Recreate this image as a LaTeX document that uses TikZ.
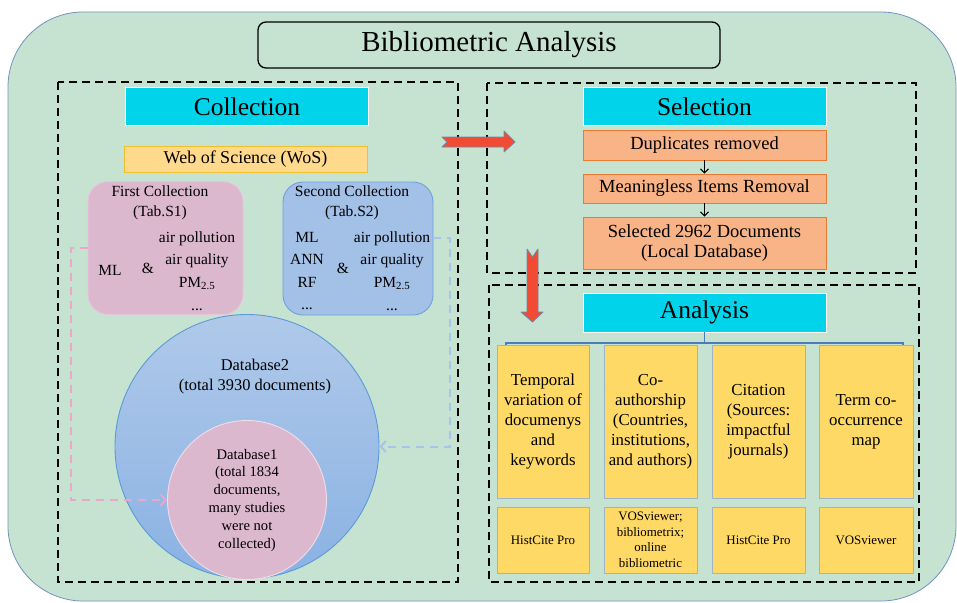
\documentclass[tikz,border=0pt]{standalone}
\usepackage{fontspec}
\setmainfont{Liberation Serif}
\usetikzlibrary{arrows.meta}

\definecolor{bggreen}{HTML}{C6E2D1}
\definecolor{bgedge}{HTML}{7393BF}
\definecolor{headcyan}{HTML}{00D3EA}
\definecolor{selorange}{HTML}{F8B386}
\definecolor{seledge}{HTML}{EA7B32}
\definecolor{wosfill}{HTML}{FFDA8C}
\definecolor{wosedge}{HTML}{F2C02E}
\definecolor{anafill}{HTML}{FFD966}
\definecolor{anaedge}{HTML}{9DB4CC}
\definecolor{pinkfill}{HTML}{DCB8CF}
\definecolor{pinkedge}{HTML}{E8C6DA}
\definecolor{bluefill}{HTML}{A3C0E7}
\definecolor{blueedge}{HTML}{6FA0DC}
\definecolor{dbtop}{HTML}{B0C9EA}
\definecolor{dbbottom}{HTML}{8AB2E3}
\definecolor{dbedge}{HTML}{5B9BD5}
\definecolor{pinkdash}{HTML}{EAA7CB}
\definecolor{bluedash}{HTML}{A7C4EC}
\definecolor{arrowred}{HTML}{F24B33}
\definecolor{arrowedge}{HTML}{6A89AE}
\definecolor{bracketblue}{HTML}{4A7EBB}

\newcommand{\fsz}[2]{\fontsize{#1}{#2}\selectfont}

\begin{document}
\begin{tikzpicture}[x=1pt, y=-1pt,
  titlebox/.style={draw, rounded corners=8pt, line width=1.3pt, minimum width=462pt, minimum height=46pt, inner sep=0pt, font=\fsz{29}{34}},
  frame/.style={draw=black, line width=2.5pt, dash pattern=on 8pt off 5pt},
  hdr/.style={fill=headcyan, draw=white, line width=.8pt, minimum width=243pt, minimum height=38pt, inner sep=0pt, font=\fsz{25.5}{30}},
  selbox/.style={fill=selorange, draw=seledge, line width=.8pt, minimum width=243pt, inner sep=0pt, align=center, font=\fsz{18.5}{20}},
  wosbox/.style={fill=wosfill, draw=wosedge, line width=.9pt, minimum width=243pt, minimum height=26pt, inner sep=0pt, font=\fsz{18}{20}},
  collbox/.style={line width=.9pt, rounded corners=20pt, minimum height=133pt, inner sep=0pt},
  coltext/.style={align=center, inner sep=0pt, font=\fsz{15.5}{22.6}},
  anabox/.style={fill=anafill, draw=anaedge, line width=.9pt, inner sep=0pt, align=center},
  toprow/.style={anabox, minimum height=153pt, font=\fsz{16.8}{20}},
  botrow/.style={anabox, minimum height=66pt, font=\fsz{12.9}{15.5}},
  dashlink/.style={line width=2pt, dash pattern=on 8pt off 6pt, -{Straight Barb[length=5pt,width=11pt]}},
  smallarrow/.style={line width=1.1pt, -{Straight Barb[length=4pt,width=8pt]}},
  blockarrow/.style={fill=arrowred, draw=arrowedge, line width=.8pt, line join=round},
  brk/.style={draw=bracketblue, line width=1.4pt}
]
\useasboundingbox (0,0) rectangle (957,602);
%\draw[help lines, step=50] (0,0) grid (957,602);
\draw [fill=bggreen, draw=bgedge, line width=.8pt, rounded corners=75pt] (8,12) rectangle (956,601);

\node [titlebox] (title) at (489,45) {Bibliometric Analysis};

\draw [frame] (58,82) rectangle (458,582);
\draw [frame] (487,83) rectangle (916,273);
\draw [frame] (489,285) rectangle (919,582);

% collection
\node [hdr] (colh) at (247,106.5) {Collection};
\node [wosbox] (wos) at (245.5,159) {Web of Science (WoS)};
\node [collbox, fill=pinkfill, draw=pinkedge, minimum width=155pt] (first) at (165.5,248) {};
\node [collbox, fill=bluefill, draw=blueedge, minimum width=150pt] (second) at (358,248.5) {};
\node [coltext, font=\fsz{15.5}{20}] (firstt) at (160,203) {First Collection\\(Tab.S1)};
\node [coltext] (firstml) at (110,270) {ML};
\node [coltext] (firstand) at (148,268) {\&};
\node [coltext] (firstkw) at (197,271) {air pollution\\air quality\\PM\textsubscript{2.5}\\...};
\node [coltext, font=\fsz{15.5}{20}] (secondt) at (352,203) {Second Collection\\(Tab.S2)};
\node [coltext] (secondml) at (307,271) {ML\\ANN\\RF\\...};
\node [coltext] (secondand) at (343,268) {\&};
\node [coltext] (secondkw) at (392,271) {air pollution\\air quality\\PM\textsubscript{2.5}\\...};

\node [circle, shade, top color=dbtop, bottom color=dbbottom, draw=dbedge, line width=.9pt, minimum size=264pt, inner sep=0pt] (db2) at (247,446.5) {};
\node [align=center, inner sep=0pt, font=\fsz{16.4}{20}] (db2t) at (255,377) {Database2\\(total 3930 documents)};
\node [circle, fill=pinkfill, draw=pinkedge!60!white, line width=.9pt, minimum size=159pt, inner sep=0pt, align=center, font=\fsz{14.6}{17.8}] (db1) at (247,500) {Database1\\(total 1834\\documents,\\many studies\\were not\\collected)};

\draw [dashlink, pinkdash] (first.west) -- ++(-17,0) |- (db1.west);
\draw [dashlink, bluedash] ([yshift=11pt]second.east) -- ++(17,0) |- (db2.east);

% selection
\node [hdr] (selh) at (704.5,106.5) {Selection};
\node [selbox, minimum height=30pt] (dup) at (704.5,145) {Duplicates removed};
\node [selbox, minimum height=29pt] (mean) at (704.5,188.5) {Meaningless Items Removal};
\node [selbox, minimum height=52pt] (seld) at (704.5,243) {Selected 2962 Documents\\(Local Database)};
\draw [smallarrow] (dup) -- (mean);
\draw [smallarrow] (mean) -- (seld);

\draw [blockarrow] (442,137) -- (504,137) -- (504,131) -- (515,142) -- (504,152) -- (504,147) -- (442,147) -- (447,142) -- cycle;
\draw [blockarrow] (527,249) -- (532.5,257) -- (538,249) -- (538,312) -- (543,312) -- (532.5,322) -- (521,312) -- (527,312) -- cycle;

% analysis
\node [hdr, minimum height=39pt] (anah) at (704.5,312.5) {Analysis};
\node [toprow, minimum width=92pt] (temporal) at (543,421.5) {Temporal\\variation of\\documenys\\and\\keywords};
\node [toprow, minimum width=93pt] (coauth) at (650.5,421.5) {Co-\\authorship\\(Countries,\\institutions,\\and authors)};
\node [toprow, minimum width=93pt] (citation) at (758.5,421.5) {Citation\\(Sources:\\impactful\\journals)};
\node [toprow, minimum width=94pt] (term) at (866,421.5) {Term co-\\occurrence\\map};
\node [botrow, minimum width=92pt] (histcite) at (543,540) {HistCite Pro};
\node [botrow, minimum width=93pt] (vosbib) at (650.5,540) {VOSviewer;\\bibliometrix;\\online\\bibliometric};
\node [botrow, minimum width=93pt] (histcite2) at (758.5,540) {HistCite Pro};
\node [botrow, minimum width=94pt] (vos) at (866,540) {VOSviewer};

\coordinate (bkl) at (506,343);
\coordinate (bkr) at (903,343);
\draw [brk] (bkl |- temporal.north) -- (bkl) -- (bkr) -- (bkr |- term.north);
\draw [brk] (anah.south) -- (anah.south |- bkl);
\end{tikzpicture}
\end{document}
